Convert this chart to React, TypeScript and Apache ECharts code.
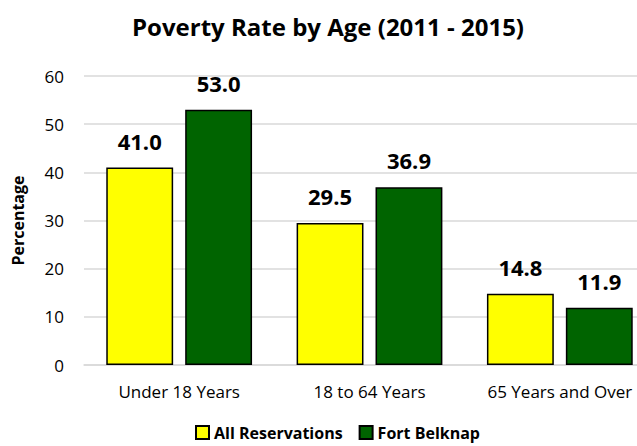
import React, { useEffect, useRef } from "react";
import * as echarts from "echarts";

const categories = ["Under 18 Years", "18 to 64 Years", "65 Years and Over"];
const allReservations = [41.0, 29.5, 14.8];
const fortBelknap = [53.0, 36.9, 11.9];
const seriesNames = ["All Reservations", "Fort Belknap"];
const yTicks = { min: 0, max: 60, interval: 10 };

const FONT = "'Open Sans', sans-serif";

export default function App() {
  const ref = useRef<HTMLDivElement>(null);
  useEffect(() => {
    if (!ref.current) return;
    const chart = echarts.init(ref.current, undefined, { renderer: "svg" });
    const labelStyle = {
      show: true,
      position: "top" as const,
      distance: 16,
      formatter: (p: any) => Number(p.value).toFixed(1),
      fontFamily: FONT,
      fontWeight: "bold" as const,
      fontSize: 22,
      color: "#000",
    };
    chart.setOption({
      animation: false,
      textStyle: { fontFamily: FONT },
      graphic: [
        {
          type: "text",
          x: 328,
          y: 26,
          style: {
            text: "Poverty Rate by Age (2011 - 2015)",
            fontFamily: FONT,
            fontWeight: "bold",
            fontSize: 24,
            fill: "#000",
            textAlign: "center",
            textVerticalAlign: "middle",
          },
        },
      ],
      legend: {
        data: seriesNames,
        left: 195,
        top: 424,
        padding: 0,
        itemWidth: 13,
        itemHeight: 13,
        itemGap: 16,
        icon: "rect",
        textStyle: { fontFamily: FONT, fontWeight: "bold", fontSize: 16, lineHeight: 17, color: "#000" },
      },
      grid: { left: 84, right: 25, top: 76, bottom: 81 },
      xAxis: {
        type: "category",
        data: categories,
        axisLine: { show: true, lineStyle: { color: "#d9d9d9", width: 1.5 } },
        axisTick: { show: false },
        axisLabel: { fontFamily: FONT, fontSize: 17, color: "#000", margin: 18 },
      },
      yAxis: {
        type: "value",
        min: yTicks.min,
        max: yTicks.max,
        interval: yTicks.interval,
        name: "Percentage",
        nameLocation: "middle",
        nameGap: 58,
        nameTextStyle: { fontFamily: FONT, fontWeight: "bold", fontSize: 16, color: "#000" },
        axisLine: { show: false },
        axisTick: { show: false },
        splitLine: { lineStyle: { color: "#d9d9d9", width: 1.5 } },
        axisLabel: { fontFamily: FONT, fontSize: 17, color: "#000", margin: 20 },
      },
      series: [
        {
          name: seriesNames[0],
          type: "bar",
          data: allReservations,
          barGap: "18%",
          barCategoryGap: "23.4%",
          itemStyle: { color: "#ffff00", borderColor: "#000", borderWidth: 1.5 },
          label: labelStyle,
        },
        {
          name: seriesNames[1],
          type: "bar",
          data: fortBelknap,
          barGap: "18%",
          barCategoryGap: "23.4%",
          itemStyle: { color: "#006400", borderColor: "#000", borderWidth: 1.5 },
          label: labelStyle,
        },
      ],
    });
    return () => chart.dispose();
  }, []);
  return (
    <div style={{ position: "fixed", left: 0, top: 0, width: 637, height: 446, overflow: "hidden", background: "#fff" }}>
      <div ref={ref} style={{ width: 680, height: 446 }} />
    </div>
  );
}
